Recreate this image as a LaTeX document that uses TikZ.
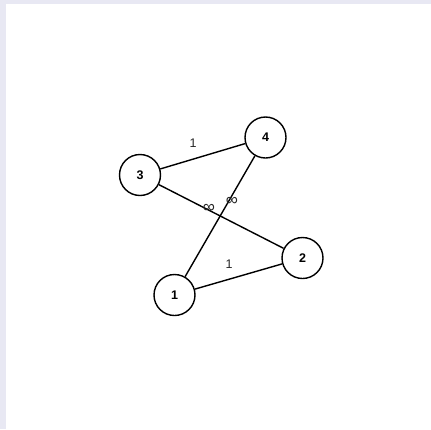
\documentclass[tikz,border=0pt]{standalone}
\usepackage{fontspec}
\setmainfont{Liberation Sans}
\definecolor{frame}{HTML}{E8E8F3}
\begin{document}
\begin{tikzpicture}[x=1pt,y=-1pt,
  vertex/.style={circle,draw=black,line width=1.4pt,fill=white,minimum size=41pt,inner sep=0pt,font=\fontsize{12.5}{14}\selectfont\bfseries},
  edge/.style={line width=1.4pt,draw=black},
  wlabel/.style={font=\fontsize{12.5}{14}\selectfont,text=black!85,inner sep=1pt},
  ilabel/.style={font=\fontsize{17}{18}\selectfont,text=black!85,inner sep=0pt}]
\fill[frame] (0,0) rectangle (431,429);
\fill[white] (6,4) rectangle (431,429);
\useasboundingbox (0,0) rectangle (431,429);
\node[vertex] (n3) at (140,175) {3};
\node[vertex] (n4) at (265.5,137.5) {4};
\node[vertex] (n2) at (302.5,258) {2};
\node[vertex] (n1) at (174.5,295) {1};
\draw[edge] (n3) -- (n4);
\draw[edge] (n1) -- (n2);
\draw[edge] (n3) -- (n2);
\draw[edge] (n1) -- (n4);
\node[wlabel] (l34) at (193,143) {1};
\node[wlabel] (l12) at (229,264) {1};
\node[ilabel] (l32) at (209,208) {∞};
\node[ilabel] (l14) at (232,201) {∞};
\end{tikzpicture}
\end{document}
